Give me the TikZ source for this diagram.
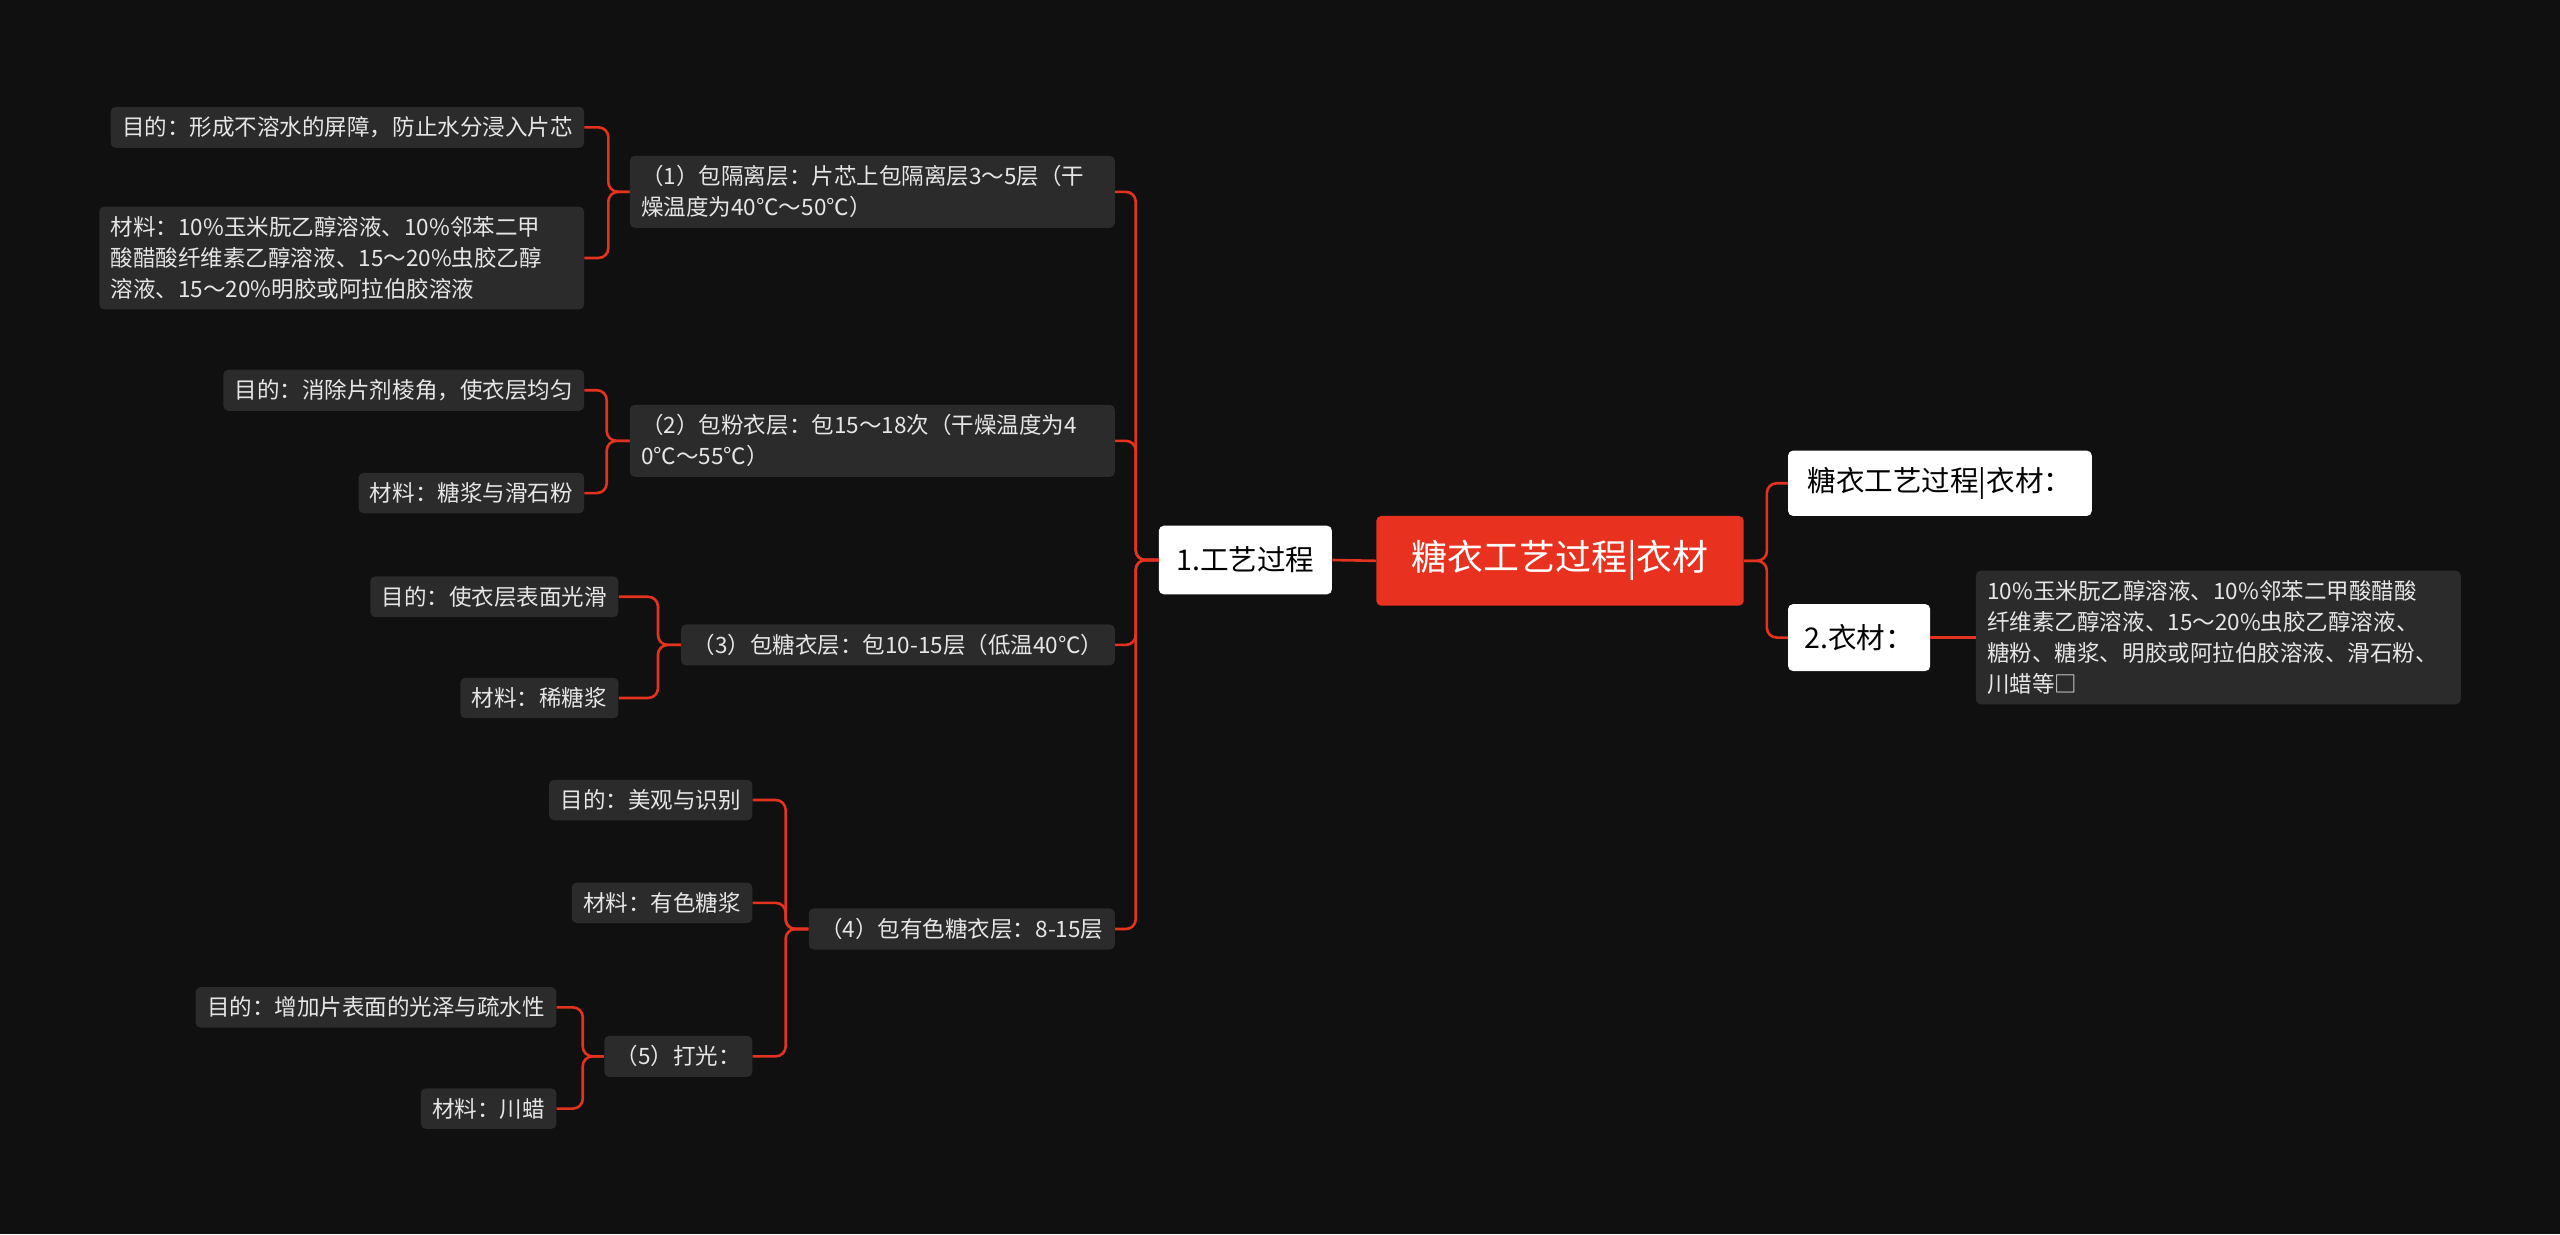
\documentclass[tikz,border=0pt]{standalone}
\usepackage{fontspec}
\setmainfont{Noto Sans CJK SC}
\begin{document}
\begin{tikzpicture}[x=1pt,y=-1pt,
 leaf/.style={fill=boxgray,text=txt,rounded corners=3pt,inner xsep=7pt,inner ysep=6pt,font=\fontsize{13.8}{19}\selectfont,align=left,anchor=east},
 wbox/.style={fill=white,text=black,rounded corners=3pt,inner xsep=9pt,inner ysep=9pt,font=\fontsize{17.5}{20}\selectfont},
 conn/.style={draw=lred,line width=1.6pt,rounded corners=6pt}]
\definecolor{boxgray}{HTML}{2B2B2B}
\definecolor{txt}{HTML}{E6E6E6}
\definecolor{lred}{HTML}{E3321D}
\definecolor{rootred}{HTML}{E8321F}
\fill[fill={rgb,255:red,16;green,16;blue,16}] (0,0) rectangle (1568,756);
\useasboundingbox (0,0) rectangle (1568,756);
% root and level 1
\node[fill=rootred,text=white,rounded corners=3pt,minimum width=225pt,minimum height=55pt,font=\fontsize{22}{24}\selectfont] (root) at (955.5,343.5) {糖衣工艺过程|衣材};
\node[wbox,anchor=east,minimum height=42pt,minimum width=106pt] (p1) at (816,343) {1.工艺过程};
\node[wbox,anchor=west,minimum height=40pt,minimum width=186pt] (r1) at (1095,296) {糖衣工艺过程|衣材：};
\node[wbox,anchor=west,minimum height=41pt,minimum width=87pt] (r2) at (1095,390.5) {2.衣材：};
\node[leaf,anchor=west,text width=283pt] (r2t) at (1210,390.5) {10\%玉米朊乙醇溶液、10\%邻苯二甲酸醋酸\\纤维素乙醇溶液、15～20\%虫胶乙醇溶液、\\糖粉、糖浆、明胶或阿拉伯胶溶液、滑石粉、\\川蜡等□};
% level 2
\node[leaf,text width=283pt] (a1) at (683,117.5) {（1）包隔离层：片芯上包隔离层3～5层（干\\燥温度为40℃～50℃）};
\node[leaf,text width=283pt] (a2) at (683,270) {（2）包粉衣层：包15～18次（干燥温度为4\\0℃～55℃）};
\node[leaf] (a3) at (683,395) {（3）包糖衣层：包10-15层（低温40℃）};
\node[leaf] (a4) at (683,569) {（4）包有色糖衣层：8-15层};
% level 3
\node[leaf] (b1) at (358,78) {目的：形成不溶水的屏障，防止水分浸入片芯};
\node[leaf,text width=283pt] (b2) at (358,158) {材料：10\%玉米朊乙醇溶液、10\%邻苯二甲\\酸醋酸纤维素乙醇溶液、15～20\%虫胶乙醇\\溶液、15～20\%明胶或阿拉伯胶溶液};
\node[leaf] (c1) at (358,239) {目的：消除片剂棱角，使衣层均匀};
\node[leaf] (c2) at (358,302) {材料：糖浆与滑石粉};
\node[leaf] (d1) at (379,365.5) {目的：使衣层表面光滑};
\node[leaf] (d2) at (379,427.5) {材料：稀糖浆};
\node[leaf] (e1) at (461,490) {目的：美观与识别};
\node[leaf] (e2) at (461,553) {材料：有色糖浆};
\node[leaf] (e3) at (461,647) {（5）打光：};
\node[leaf] (f1) at (341,617) {目的：增加片表面的光泽与疏水性};
\node[leaf] (f2) at (341,679) {材料：川蜡};
% connectors
\draw[conn] (root.west) -- (p1.east);
\foreach \c in {a1,a2,a3,a4} \draw[conn] (p1.west) -- ++(-14,0) |- (\c.east);
\foreach \c in {r1,r2} \draw[conn] (root.east) -- ++(14,0) |- (\c.west);
\draw[conn] (r2.east) -- (r2t.west);
\foreach \c in {b1,b2} \draw[conn] (a1.west) -- ++(-13,0) |- (\c.east);
\foreach \c in {c1,c2} \draw[conn] (a2.west) -- ++(-14,0) |- (\c.east);
\foreach \c in {d1,d2} \draw[conn] (a3.west) -- ++(-14,0) |- (\c.east);
\foreach \c in {e1,e2,e3} \draw[conn] (a4.west) -- ++(-14,0) |- (\c.east);
\foreach \c in {f1,f2} \draw[conn] (e3.west) -- ++(-13,0) |- (\c.east);
\end{tikzpicture}
\end{document}
